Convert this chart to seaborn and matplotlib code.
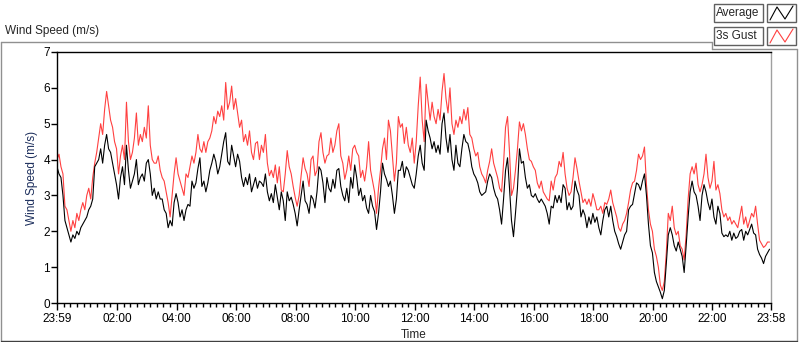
import numpy as np
import pandas as pd
import matplotlib
matplotlib.use("Agg")
import matplotlib.pyplot as plt
import seaborn as sns
from matplotlib.lines import Line2D
from matplotlib.patches import Rectangle

# minutes after 23:59 of the day before, one reading every 4 min
minutes = np.arange(0, 1440, 4)

# 3s gust (m/s)
gust = [
    4.0, 4.15, 3.8, 3.6, 2.7, 2.6, 2.3, 2.0, 2.3, 2.1,
    2.5, 2.3, 2.6, 2.8, 2.6, 3.0, 3.2, 2.9, 3.5, 3.9,
    4.2, 4.6, 5.0, 4.7, 5.4, 5.9, 5.5, 5.1, 4.9, 4.5,
    4.3, 3.6, 4.1, 4.4, 4.0, 5.6, 4.5, 4.0, 4.2, 4.6,
    5.3, 4.4, 4.7, 4.5, 4.9, 4.6, 5.5, 4.4, 4.0, 3.9,
    3.9, 4.1, 3.7, 3.5, 3.4, 3.1, 2.8, 2.4, 3.0, 3.6,
    4.05, 3.6, 3.4, 3.2, 3.0, 3.6, 3.5, 3.8, 4.1, 3.9,
    4.2, 4.7, 4.3, 4.2, 4.5, 4.2, 4.5, 4.6, 4.8, 5.2,
    5.0, 5.35, 5.2, 5.5, 5.1, 6.15, 5.4, 5.6, 6.05, 5.4,
    5.7, 5.3, 4.9, 5.1, 4.5, 4.7, 4.4, 4.8, 4.2, 4.0,
    4.45, 4.5, 4.0, 4.4, 4.2, 4.7, 3.9, 3.55, 3.7, 3.5,
    3.85, 3.35, 3.8, 3.15, 3.1, 3.6, 4.25, 3.8, 3.6, 3.25,
    2.95, 2.7, 3.0, 3.55, 4.05, 3.75, 3.6, 3.25, 4.0, 4.1,
    3.55, 3.7, 4.5, 4.75, 4.2, 3.9, 4.1, 4.15, 4.6, 4.2,
    4.4, 4.8, 5.0, 4.1, 3.9, 3.45, 3.7, 4.1, 3.7, 4.3,
    4.4, 4.2, 4.1, 3.5, 3.7, 3.4, 3.8, 4.5, 3.7, 3.4,
    3.1, 2.5, 3.2, 3.7, 4.3, 4.6, 4.0, 5.1, 4.8, 4.1,
    3.4, 3.9, 5.2, 4.9, 5.0, 4.45, 4.9, 4.4, 4.2, 4.6,
    3.9, 4.5, 5.5, 6.3, 5.1, 4.5, 6.1, 5.6, 5.1, 5.6,
    5.2, 5.0, 5.4, 5.1, 5.9, 6.4, 5.7, 5.3, 6.0, 5.0,
    4.7, 5.1, 4.9, 5.2, 5.0, 5.4, 5.1, 5.45, 4.7, 4.6,
    4.3, 4.1, 4.2, 3.8, 3.6, 3.5, 3.35, 3.7, 3.95, 4.3,
    3.9, 3.7, 3.5, 3.2, 3.1, 3.9, 4.9, 5.2, 4.2, 3.0,
    3.2, 3.7, 4.3, 5.05, 4.8, 5.0, 4.7, 4.3, 4.0, 3.95,
    3.8, 3.7, 3.35, 3.2, 3.4, 3.1, 3.0, 2.9, 2.85, 3.4,
    3.15, 3.5, 3.6, 3.95, 3.8, 4.2, 3.6, 3.2, 3.0, 3.1,
    3.5, 4.05, 3.75, 3.4, 3.1, 2.8, 2.9, 2.75, 2.9, 2.7,
    3.05, 2.85, 2.6, 2.6, 2.7, 2.5, 2.8, 2.75, 2.9, 3.15,
    2.8, 2.6, 2.4, 2.1, 2.0, 2.2, 2.3, 2.5, 2.8, 3.15,
    3.35, 3.4, 3.7, 4.15, 4.0, 4.1, 4.35, 3.3, 2.6, 2.2,
    2.0, 1.5, 1.3, 1.0, 0.5, 0.35, 0.6, 1.4, 2.5, 2.3,
    2.7, 2.1, 1.9, 2.0, 1.6, 1.5, 1.2, 1.9, 2.9, 3.6,
    3.8, 3.6, 3.9, 3.3, 3.1, 3.3, 3.6, 4.15, 3.5, 3.2,
    3.4, 3.95, 3.15, 3.3, 3.05, 2.6, 2.4, 2.5, 2.3, 2.4,
    2.2, 2.3, 2.2, 2.1, 2.4, 2.7, 2.2, 2.4, 2.1, 2.3,
    2.5, 2.4, 2.7, 2.2, 1.75, 1.65, 1.55, 1.6, 1.7, 1.7,
]

# average (m/s)
average = [
    3.8, 3.6, 3.5, 3.0, 2.3, 2.1, 1.9, 1.7, 1.9, 1.8,
    2.0, 1.9, 2.1, 2.2, 2.3, 2.4, 2.6, 2.7, 2.9, 3.8,
    3.9, 4.0, 4.3, 3.9, 4.4, 4.7, 4.3, 4.2, 3.9, 3.6,
    3.3, 2.9, 3.5, 3.8, 3.3, 4.4, 3.7, 3.2, 3.4, 3.6,
    4.0, 3.3, 3.5, 3.6, 3.4, 3.9, 4.0, 3.6, 3.0, 3.2,
    2.9, 3.1, 2.9, 2.9, 2.6, 2.5, 2.1, 2.3, 2.15, 2.8,
    3.05, 2.8, 2.4, 2.6, 2.3, 2.6, 2.75, 2.7, 3.4, 3.2,
    3.35, 3.75, 4.05, 3.25, 3.4, 3.1, 3.35, 3.7, 3.9, 4.15,
    3.95, 3.6, 3.8, 4.15, 4.5, 4.75, 3.95, 3.85, 4.4, 4.1,
    3.8, 4.15, 3.95, 3.5, 3.25, 3.5, 3.3, 3.6, 3.1, 3.3,
    3.5, 3.2, 3.4, 3.35, 3.25, 3.6, 3.1, 2.85, 3.05, 2.8,
    3.3, 2.95, 2.6, 3.1, 2.85, 2.3, 3.1, 2.85, 2.95, 2.75,
    2.5, 2.15, 2.6, 3.0, 3.4, 2.85, 2.75, 2.5, 3.0, 2.9,
    2.65, 3.1, 3.8, 3.7, 3.35, 2.8, 3.5, 3.2, 3.1, 3.45,
    3.2, 3.7, 3.75, 3.25, 3.0, 2.85, 3.2, 2.8, 3.5, 3.2,
    3.85, 3.5, 3.0, 3.2, 2.85, 3.0, 2.65, 2.5, 3.0, 2.7,
    2.55, 2.05, 2.5, 3.1, 3.9, 3.6, 3.45, 3.25, 3.4, 3.0,
    2.5, 2.9, 3.7, 3.7, 3.95, 3.5, 3.8, 3.7, 3.5, 3.3,
    3.2, 3.6, 4.1, 4.4, 3.9, 3.7, 5.1, 4.8, 4.6, 4.3,
    4.5, 4.2, 4.4, 4.15, 5.0, 5.3, 4.6, 4.2, 4.7, 4.0,
    3.7, 4.4, 3.9, 3.8, 4.3, 4.7, 4.5, 4.45, 4.2, 3.8,
    3.6, 3.5, 3.35, 3.1, 3.0, 3.05, 3.1, 3.4, 3.6, 3.5,
    3.2, 3.0, 2.9, 2.6, 2.2, 2.9, 3.7, 4.05, 3.2, 2.3,
    1.85, 2.5, 3.2, 4.3, 3.9, 3.95, 3.5, 3.2, 3.3, 3.0,
    2.95, 3.05, 2.9, 2.8, 2.9, 2.8, 2.7, 2.5, 2.2, 2.7,
    2.65, 3.0, 2.8, 3.0, 2.8, 3.3, 3.2, 2.6, 2.8, 2.6,
    2.7, 3.4, 3.15, 3.0, 2.4, 2.6, 2.45, 2.1, 2.4, 2.2,
    2.5, 2.25, 2.4, 2.1, 1.9, 2.3, 2.6, 2.7, 2.4, 2.7,
    2.3, 2.0, 1.85, 1.65, 1.5, 1.7, 1.9, 2.0, 2.6, 2.7,
    2.75, 3.05, 3.35, 3.3, 3.15, 3.4, 3.6, 3.0, 2.2, 1.6,
    1.4, 0.85, 0.6, 0.45, 0.3, 0.12, 0.35, 1.1, 1.9, 2.1,
    1.9, 1.6, 1.45, 1.7, 1.5, 1.3, 0.85, 1.6, 2.4, 3.1,
    3.4, 3.1, 3.0, 2.7, 2.3, 3.0, 3.3, 3.1, 2.8, 2.6,
    2.9, 2.4, 2.2, 2.7, 2.5, 1.95, 1.85, 1.9, 1.85, 2.0,
    1.75, 1.95, 1.8, 1.85, 2.0, 2.05, 1.75, 2.0, 1.9, 2.05,
    2.2, 1.95, 1.9, 1.5, 1.35, 1.25, 1.1, 1.3, 1.4, 1.5,
]

tick_minutes = [0, 121, 241, 361, 481, 601, 721, 841, 961, 1081, 1201, 1321, 1439]
tick_labels = ["23:59", "02:00", "04:00", "06:00", "08:00", "10:00", "12:00",
               "14:00", "16:00", "18:00", "20:00", "22:00", "23:58"]
series_names = ["Average", "3s Gust"]
series_colors = ["black", "#ff4040"]

df = pd.DataFrame({"Minute": minutes, "Average": average, "3s Gust": gust})

sns.set_style("white")
plt.rcParams['font.family'] = ['Liberation Sans', 'DejaVu Sans']

W, H = 800, 342
def fx(x):
    return x / W
def fy(y):
    return 1 - y / H

fig = plt.figure(figsize=(8, 3.42), dpi=100)
ax = fig.add_axes([fx(57), fy(303), 714 / W, 251 / H])

# gust first so the average sits on top
sns.lineplot(data=df, x="Minute", y="3s Gust", color=series_colors[1], linewidth=0.8, ax=ax)
sns.lineplot(data=df, x="Minute", y="Average", color=series_colors[0], linewidth=0.8, ax=ax)

ax.set_xlim(0, 1439)
ax.set_ylim(0, 7)
ax.set_yticks(range(8))
ax.set_xticks(tick_minutes)
ax.set_xticklabels(tick_labels)

# 8 minor ticks between each pair of labelled ticks
minor = []
for a, b in zip(tick_minutes[:-1], tick_minutes[1:]):
    minor += list(np.linspace(a, b, 10)[1:-1])
ax.set_xticks(minor, minor=True)

ax.tick_params(axis='both', which='both', bottom=True, left=True, direction='out',
               colors='black', labelsize=8.5)
ax.tick_params(axis='x', which='major', length=5, width=1, pad=2)
ax.tick_params(axis='x', which='minor', length=3, width=1)
ax.tick_params(axis='y', which='major', length=4, width=1, pad=1)

ax.set_xlabel("Time", fontsize=8.5, labelpad=3)
ax.set_ylabel("Wind Speed (m/s)", fontsize=8.5, color='#1c2e5c', labelpad=4)

for side in ['left', 'bottom', 'top']:
    ax.spines[side].set_color('black')
    ax.spines[side].set_linewidth(1)
ax.spines['right'].set_color('#a0a0a0')
ax.spines['right'].set_linewidth(1)

# panel title
fig.text(fx(5), fy(31), "Wind Speed (m/s)", fontsize=8.5, va='center', ha='left')

# outer frame
frame = [
    ([0.5, 712], [42, 42], '#909090'),
    ([712, 712], [42, 49], '#909090'),
    ([712, 797], [49, 49], '#909090'),
    ([797, 797], [49, 341], '#909090'),
    ([0.5, 0.5], [42, 341], '#909090'),
    ([0.5, 797], [340.5, 340.5], '#404040'),
]
for xs, ys, c in frame:
    fig.add_artist(Line2D([fx(v) for v in xs], [fy(v) for v in ys],
                          transform=fig.transFigure, color=c, lw=1))

# legend boxes
for k, (name, col) in enumerate(zip(series_names, series_colors)):
    top = 4 + 23 * k
    fig.add_artist(Rectangle((fx(714), fy(top + 18)), 49 / W, 18 / H,
                             transform=fig.transFigure, facecolor='white',
                             edgecolor='#606060', lw=1))
    fig.text(fx(716), fy(top + 9), name, fontsize=8.5, va='center', ha='left')
    fig.add_artist(Rectangle((fx(767), fy(top + 18)), 29 / W, 18 / H,
                             transform=fig.transFigure, facecolor='white',
                             edgecolor='#606060', lw=1))
    zx = [770, 777, 785, 793]
    zy = [top + 16, top + 3, top + 15, top + 2]
    fig.add_artist(Line2D([fx(v) for v in zx], [fy(v) for v in zy],
                          transform=fig.transFigure, color=col, lw=0.8))

fig.savefig("out.png", dpi=100)
